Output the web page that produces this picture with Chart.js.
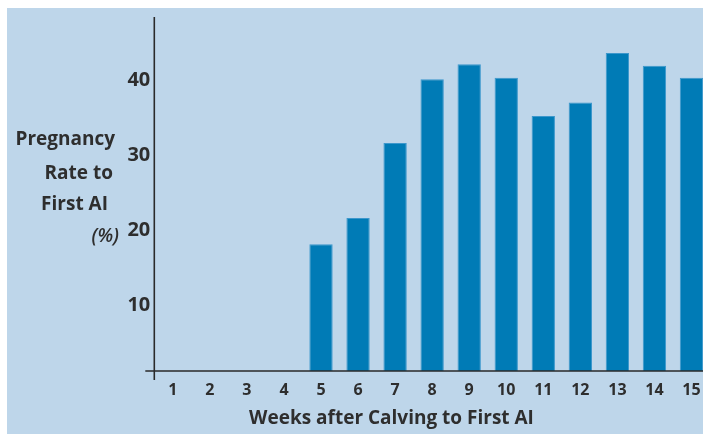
<!DOCTYPE html>
<html>
<head>
<meta charset="utf-8">
<script src="https://cdn.jsdelivr.net/npm/chart.js@4.4.1/dist/chart.umd.min.js"></script>
<style>
  html, body { margin: 0; padding: 0; background: #ffffff; width: 703px; height: 436px; overflow: hidden; }
  #wrap { position: absolute; left: 7px; top: 8px; width: 710px; height: 426px; background: #bed6ea; }
  canvas { display: block; }
</style>
</head>
<body>
<div id="wrap"><canvas id="c" width="710" height="426"></canvas></div>
<script>
// ---- data ----
const weeks = ['1','2','3','4','5','6','7','8','9','10','11','12','13','14','15'];
const pregnancyRate = [null, null, null, null, 18.1, 21.6, 31.6, 40.1, 42.1, 40.3, 35.2, 37.0, 43.6, 41.9, 40.3];
const yTickValues = [10, 20, 30, 40];
const yTitleLines = ['Pregnancy', 'Rate to', 'First AI', '(%)'];
const xTitle = 'Weeks after Calving to First AI';

const FONT = "'Open Sans', 'DejaVu Sans', sans-serif";
const TEXT = '#2e2e2e';

const axesAndTitles = {
  id: 'axesAndTitles',
  afterDatasetsDraw(chart) {
    const ctx = chart.ctx;
    const a = chart.chartArea;
    ctx.save();
    ctx.strokeStyle = '#2a2a2a';
    ctx.lineWidth = 1.6;
    ctx.beginPath();
    ctx.moveTo(a.left, a.top);
    ctx.lineTo(a.left, a.bottom + 9);
    ctx.moveTo(a.left - 9, a.bottom);
    ctx.lineTo(a.right + 5, a.bottom);
    ctx.stroke();

    // y title (multi-line, per-line right edges)
    ctx.fillStyle = TEXT;
    ctx.textAlign = 'right';
    ctx.textBaseline = 'alphabetic';
    const rights = [108, 106, 101, 112];
    const bases = [137, 171, 202, 234];
    yTitleLines.forEach((t, i) => {
      ctx.font = (i === 3 ? 'italic 600 ' : 'bold ') + '19px ' + FONT;
      ctx.fillText(t, rights[i], bases[i]);
    });

    // x title
    ctx.font = 'bold 19px ' + FONT;
    ctx.textAlign = 'center';
    ctx.textBaseline = 'middle';
    ctx.fillText(xTitle, 384.5, 411);
    ctx.restore();
  }
};

new Chart(document.getElementById('c'), {
  type: 'bar',
  data: {
    labels: weeks,
    datasets: [{
      data: pregnancyRate,
      backgroundColor: '#007bb6',
      borderColor: '#3c97cc',
      borderWidth: 1,
      borderSkipped: 'bottom',
      barPercentage: 0.63,
      categoryPercentage: 1.0
    }]
  },
  options: {
    responsive: false,
    animation: false,
    events: [],
    layout: { padding: { top: 9, right: 7, left: 0, bottom: 0 } },
    plugins: { legend: { display: false }, tooltip: { enabled: false }, title: { display: false } },
    scales: {
      x: {
        grid: { display: false, drawTicks: false },
        border: { display: false },
        ticks: { color: TEXT, font: { family: FONT, size: 16, weight: 'bold' }, padding: 10, maxRotation: 0, autoSkip: false },
        afterFit(s) { s.height = 63; s.paddingLeft = 0; s.paddingRight = 0; }
      },
      y: {
        min: 1.2,
        max: 48.4,
        grid: { display: false, drawTicks: false },
        border: { display: false },
        afterBuildTicks(s) { s.ticks = yTickValues.map(v => ({ value: v })); },
        ticks: { color: TEXT, font: { family: FONT, size: 20, weight: 'bold' }, padding: 4 },
        afterFit(s) { s.width = 147.3; s.paddingTop = 0; s.paddingBottom = 0; }
      }
    }
  },
  plugins: [axesAndTitles]
});
</script>
</body>
</html>
